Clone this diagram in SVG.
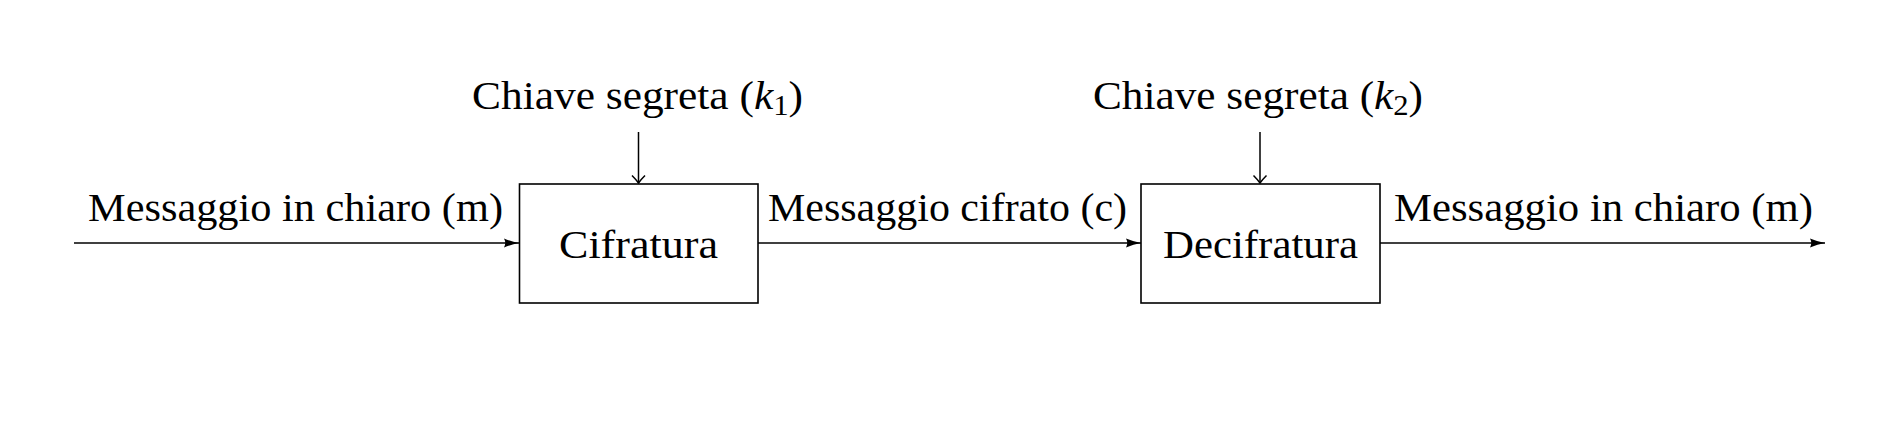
<svg xmlns="http://www.w3.org/2000/svg" width="1902" height="428" viewBox="0 0 1902 428">
<style>
.t{font-family:"Liberation Serif","DejaVu Serif",serif;font-size:41px;fill:#000}
.box{fill:#fff;stroke:#000;stroke-width:1.6}
.ln{stroke:#000;stroke-width:1.5;fill:none}
</style>
<defs>
<marker id="fill" markerUnits="userSpaceOnUse" markerWidth="18" markerHeight="12" refX="15" refY="6" orient="auto" viewBox="0 0 18 12">
<path d="M0,1.5 Q7.5,4.6 15,6 Q7.5,7.4 0,10.5 Q2.5,6 0,1.5 Z" fill="#000"/>
</marker>
</defs>
<rect width="1902" height="428" fill="#fff"/>
<g id="connectors">
<line class="ln" x1="74" y1="243" x2="519" y2="243" marker-end="url(#fill)"/>
<line class="ln" x1="758" y1="243" x2="1141" y2="243" marker-end="url(#fill)"/>
<line class="ln" x1="1380" y1="243" x2="1825" y2="243" marker-end="url(#fill)"/>
<line class="ln" x1="638.5" y1="132" x2="638.5" y2="183"/>
<path class="ln" d="M632,175.5 Q636,179.5 638.5,183 Q641,179.5 645,175.5"/>
<line class="ln" x1="1260" y1="132" x2="1260" y2="183"/>
<path class="ln" d="M1253.5,175.5 Q1257.5,179.5 1260,183 Q1262.5,179.5 1266.5,175.5"/>
<text class="t" x="88" y="221" textLength="415" lengthAdjust="spacingAndGlyphs">Messaggio in chiaro (m)</text>
<text class="t" x="768" y="221" textLength="359" lengthAdjust="spacingAndGlyphs">Messaggio cifrato (c)</text>
<text class="t" x="1394" y="221" textLength="419" lengthAdjust="spacingAndGlyphs">Messaggio in chiaro (m)</text>
</g>
<g id="key1">
<text class="t" x="472" y="109" textLength="331" lengthAdjust="spacingAndGlyphs">Chiave segreta (<tspan font-style="italic">k</tspan><tspan font-size="29" dy="6">1</tspan><tspan dy="-6">)</tspan></text>
</g>
<g id="key2">
<text class="t" x="1093" y="109" textLength="330" lengthAdjust="spacingAndGlyphs">Chiave segreta (<tspan font-style="italic">k</tspan><tspan font-size="29" dy="6">2</tspan><tspan dy="-6">)</tspan></text>
</g>
<g id="cifratura">
<rect class="box" x="519.5" y="184" width="238.5" height="119"/>
<text class="t" x="638.5" y="258" text-anchor="middle" textLength="159" lengthAdjust="spacingAndGlyphs">Cifratura</text>
</g>
<g id="decifratura">
<rect class="box" x="1141" y="184" width="239" height="119"/>
<text class="t" x="1260.5" y="258" text-anchor="middle" textLength="195" lengthAdjust="spacingAndGlyphs">Decifratura</text>
</g>
</svg>
